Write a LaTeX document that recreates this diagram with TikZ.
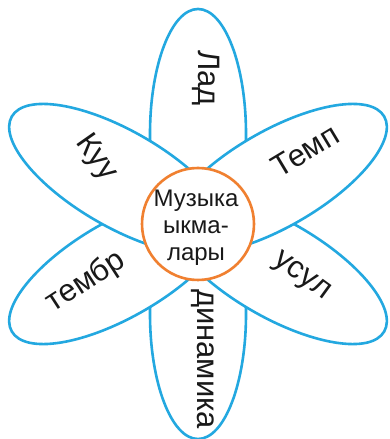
\documentclass[tikz,border=0pt]{standalone}
\usepackage{fontspec}
\setmainfont{Liberation Sans}
\usetikzlibrary{shapes.geometric,calc}
\definecolor{petalblue}{RGB}{35,168,224}
\definecolor{coreorange}{RGB}{240,128,48}
\begin{document}
\begin{tikzpicture}[x=1pt,y=1pt,
  petal/.style={ellipse, draw=petalblue, fill=white, line width=2.6pt,
    minimum width=250pt, minimum height=96pt, inner sep=0pt},
  core/.style={circle, draw=coreorange, fill=white, line width=2.6pt,
    minimum size=112pt, inner sep=0pt},
  lbl/.style={font=\fontsize{31}{33}\selectfont, inner sep=0pt, text=black!90},
  ctr/.style={font=\fontsize{24}{27}\selectfont, inner sep=0pt, text=black!90, align=center},
]
\fill[white] (0,0) rectangle (389,439);
\useasboundingbox (0,0) rectangle (389,439);
\coordinate (C) at (198,215);
% petals (draw order gives the overlaps)
\node[petal, rotate=90]  (ptop) at ($(C)+(90:90)$) {};
\node[petal, rotate=-90] (pbot) at ($(C)+(-90:90)$) {};
\node[petal, rotate=210] (pll)  at ($(C)+(210:90)$) {};
\node[petal, rotate=-30] (plr)  at ($(C)+(-30:90)$) {};
\node[petal, rotate=150] (pul)  at ($(C)+(150:90)$) {};
\node[petal, rotate=30]  (pur)  at ($(C)+(30:90)$) {};
% centre
\node[core] (core) at (C) {};
\node[ctr] (ctext) at (196,211) {Музыка\\ыкма-\\лары};
% labels
\node[lbl, rotate=-90] (tlad)  at (206,361) {Лад};
\node[lbl, rotate=31]  (ttemp) at (305,288) {Темп};
\node[lbl, rotate=-55] (tkuu)  at (96,281)  {Куу};
\node[lbl, rotate=33]  (ttemb) at (86,157)  {тембр};
\node[lbl, rotate=-36] (tusul) at (301,162) {усул};
\node[lbl, rotate=-90] (tdin)  at (203,80)  {динамика};
\end{tikzpicture}
\end{document}
